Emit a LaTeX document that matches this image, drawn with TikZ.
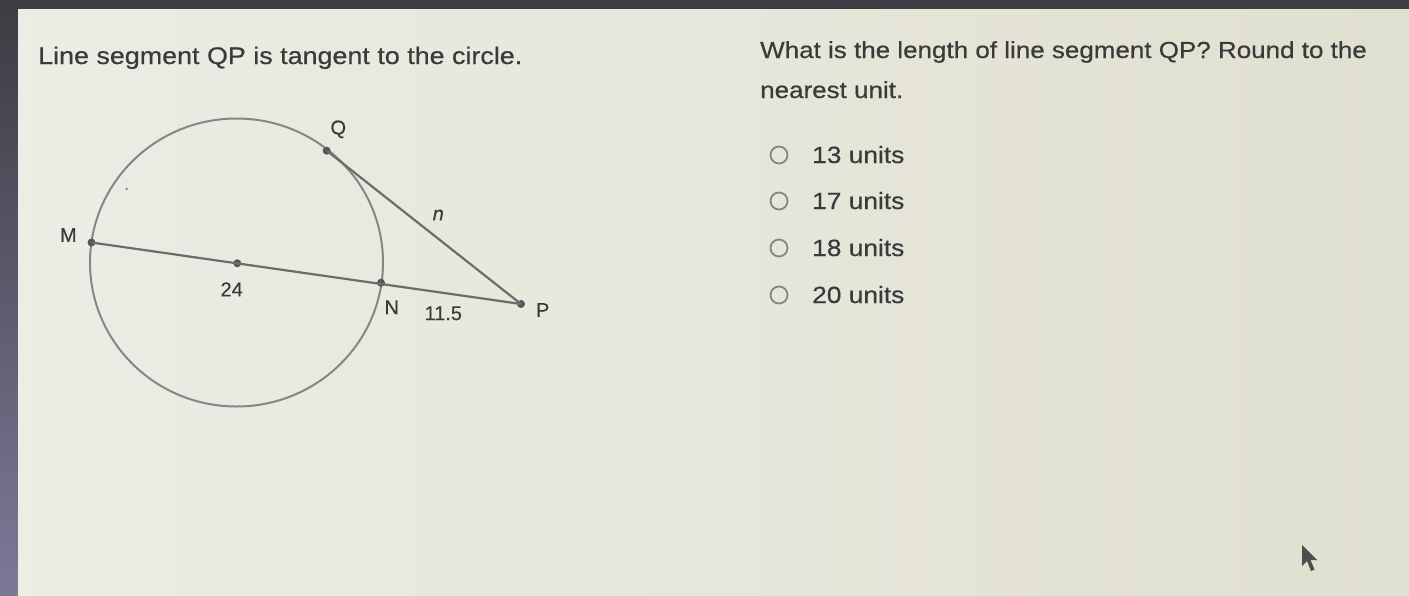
\documentclass[tikz,border=0pt]{standalone}
\usepackage{fontspec}
\setmainfont{Liberation Sans}[FakeStretch=1.12, FakeBold=0.5]
\newfontfamily\labfont{Liberation Sans}[FakeBold=0.3]
\definecolor{bgL}{HTML}{EDECE5}
\definecolor{bgR}{HTML}{E0E0D0}
\definecolor{txt}{HTML}{3A3A3A}
\definecolor{circ}{HTML}{868686}
\definecolor{seg}{HTML}{6C6C6C}
\definecolor{frameTop}{HTML}{3C3C42}
\definecolor{frameL}{HTML}{7C7998}
\tikzset{
  qtext/.style={font=\fontsize{23.5}{28}\selectfont, text=txt, inner sep=0pt, anchor=base west},
  lab/.style={font=\labfont\fontsize{20}{24}\selectfont, text=txt, inner sep=0pt},
  pt/.style={circle, fill=seg!80!black, inner sep=0pt, minimum size=8pt},
  radio/.style={circle, draw=circ, line width=1.8pt, inner sep=0pt, minimum size=17pt}
}
\begin{document}
\begin{tikzpicture}[x=1pt,y=1pt]
\useasboundingbox (0,0) rectangle (1409,-595);
% background
\shade[left color=bgL, right color=bgR] (0,0) rectangle (1409,-595);
\shade[top color=frameTop, bottom color=frameL] (0,0) rectangle (18,-595);
\fill[frameTop] (0,0) rectangle (1409,-9);
\draw[white!85!gray, line width=1pt] (18.5,-9) -- (18.5,-595);
% question texts
\node[qtext, font=\fontsize{24}{28}\selectfont] (t1) at (38,-64) {Line segment QP is tangent to the circle.};
\node[qtext, font=\fontsize{23.2}{28}\selectfont] (t2) at (760,-58) {What is the length of line segment QP? Round to the};
\node[qtext, font=\fontsize{23.2}{28}\selectfont] (t3) at (760,-98) {nearest unit.};
% options
\node[radio] (r1) at (779,-155) {};
\node[radio] (r2) at (779,-201) {};
\node[radio] (r3) at (779,-248) {};
\node[radio] (r4) at (779,-295) {};
\node[qtext] (o1) at (812,-163) {13 units};
\node[qtext] (o2) at (812,-209) {17 units};
\node[qtext] (o3) at (812,-256) {18 units};
\node[qtext] (o4) at (812,-303) {20 units};
% diagram
\draw[circ, line width=2pt] (236.5,-262.5) ellipse [x radius=146.5, y radius=144];
\node[pt] (M) at (91.5,-242.5) {};
\node[pt] (C) at (237.3,-263.3) {};
\node[pt] (N) at (381,-282.7) {};
\node[pt] (P) at (521,-304) {};
\node[pt] (Q) at (326.7,-150.7) {};
\fill[seg] (126.7,-189) circle (1.2pt);
\draw[seg, line width=2.2pt] (M.center) -- (P.center);
\draw[seg, line width=2.2pt] (Q.center) -- (P.center);
\node[lab] (lQ) at (338.3,-129.3) {Q};
\node[lab] (lM) at (68.3,-235) {M};
\node[lab] (l24) at (231.7,-289.3) {24};
\node[lab] (lN) at (391.7,-307.3) {N};
\node[lab] (l115) at (443.3,-313.3) {11.5};
\node[lab] (lP) at (542.7,-310) {P};
\node[lab, font=\labfont\itshape\fontsize{20}{24}\selectfont] (ln) at (438.3,-215) {n};
% mouse cursor
\fill[txt!90!white] (1302,-545) -- (1302,-566) -- (1307,-561) -- (1311,-571) -- (1314.5,-569.5) -- (1310.5,-560) -- (1317,-560) -- cycle;
\end{tikzpicture}
\end{document}
